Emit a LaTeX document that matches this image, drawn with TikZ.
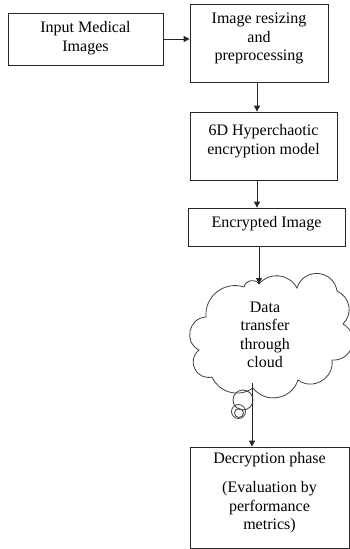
\documentclass[tikz,border=0pt]{standalone}
\usepackage{fontspec}
\setmainfont{Liberation Serif}
\usetikzlibrary{arrows.meta}
\tikzset{
  box/.style={draw=black!85, line width=0.8pt, rectangle, inner sep=0pt},
  txt/.style={align=center, inner sep=0pt, font=\fontsize{16}{18.5}\selectfont},
  arr/.style={draw=black!85, line width=0.8pt, -{Triangle[length=6pt,width=6pt]}},
  cloudline/.style={draw=black!75, line width=0.8pt},
  puff/.style 2 args={bend left=#1, looseness=#2},
  bubble/.style={draw=black!75, line width=0.8pt}
}
\begin{document}
\begin{tikzpicture}[x=1pt,y=-1pt]
\useasboundingbox (0,0) rectangle (350,549);
% boxes
\node[box, minimum width=155, minimum height=52] (b1) at (85.5,39) {};
\node[txt] (t1) at (85.5,38) {Input Medical\\Images};
\node[box, minimum width=138, minimum height=78] (b2) at (259,43) {};
\node[txt] (t2) at (259,38.5) {Image resizing\\and\\preprocessing};
\node[box, minimum width=147, minimum height=68] (b3) at (263.5,146) {};
\node[txt] (t3) at (263.5,141) {6D Hyperchaotic\\encryption model};
\node[box, minimum width=157, minimum height=38] (b4) at (266.5,227) {};
\node[txt] (t4) at (266.5,224) {Encrypted Image};
% cloud
\draw[cloudline] (206,317)
  to[puff={56}{1.1}] (244,287)
  to[puff={67}{1.2}] (259,284)
  to[puff={56}{1.1}] (297,288)
  to[puff={77}{1.4}] (337,291)
  to[puff={56}{1.1}] (343,324)
  to[puff={77}{1.4}] (332,360)
  to[puff={67}{1.2}] (298,380)
  to[puff={62}{1.16}] (253,388)
  to[puff={50}{1.05}] (212,377)
  to[puff={77}{1.4}] (199,350)
  to[puff={75}{1.33}] (206,317) -- cycle;
\node[txt] (t5) at (265,335) {Data\\transfer\\through\\cloud};
\node[box, minimum width=159, minimum height=101] (b5) at (269.5,497.5) {};
\node[txt, anchor=north] (t6) at (269.5,452) {Decryption phase\\[11pt](Evaluation by\\performance\\metrics)};
% thought bubbles
\draw[bubble] (243,400) circle (10);
\draw[bubble] (238.5,411.5) circle (7);
\draw[bubble] (239,413) circle (4.5);
% connectors
\coordinate (cin) at (259,284);
\coordinate (cout) at (252,383);
\draw[arr] (b1.east) -- (b1.east -| b2.west);
\draw[arr] ([xshift=-2pt]b2.south) -- ([xshift=-2pt]b2.south |- b3.north);
\draw[arr] ([xshift=-6.5pt]b3.south) -- ([xshift=-6.5pt]b3.south |- b4.north);
\draw[arr] (b4.south -| cin) -- (cin);
\draw[arr] (cout) -- (cout |- b5.north);
\end{tikzpicture}
\end{document}
